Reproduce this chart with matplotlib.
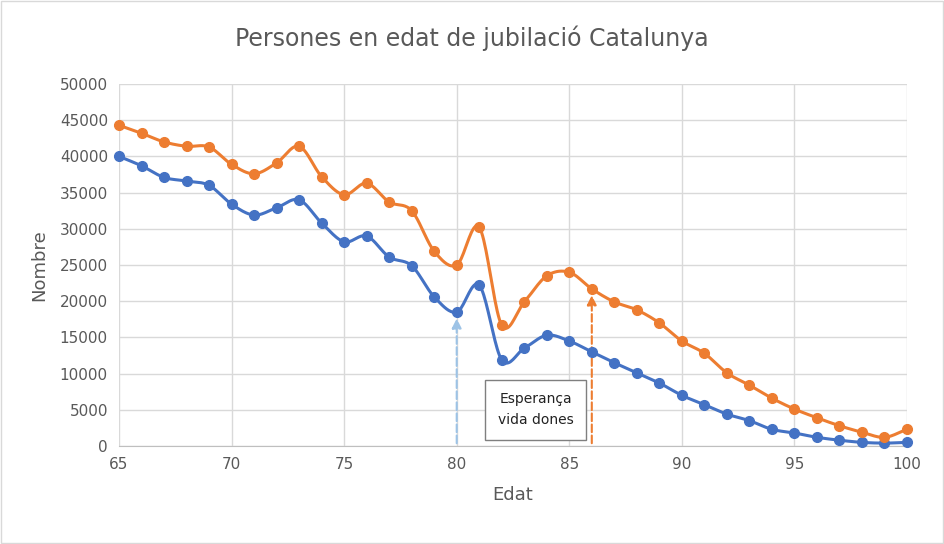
import numpy as np
import matplotlib
matplotlib.use("Agg")
import matplotlib.pyplot as plt
from matplotlib.patches import Rectangle

ages = list(range(65, 101))
homes = [40000,38700,37100,36600,36000,33400,31900,32900,34000,30800,28200,29000,26100,24900,20600,18500,22200,11900,13500,15300,14500,13000,11500,10100,8700,7000,5700,4400,3500,2300,1800,1200,800,500,400,500]
dones = [44300,43200,42000,41400,41300,38900,37600,39100,41400,37200,34700,36300,33700,32500,26900,25000,30200,16700,19900,23500,24000,21700,19900,18800,17000,14500,12800,10100,8400,6600,5100,3900,2800,1900,1200,2300]
esp_homes, esp_dones = 80, 86

def smooth(x, y, n=20):
    x = np.asarray(x, float); y = np.asarray(y, float)
    xp = np.concatenate([[2*x[0]-x[1]], x, [2*x[-1]-x[-2]]])
    yp = np.concatenate([[2*y[0]-y[1]], y, [2*y[-1]-y[-2]]])
    xs, ys = [], []
    for i in range(1, len(xp)-2):
        t = np.linspace(0, 1, n, endpoint=False)
        for arr, out in ((xp, xs), (yp, ys)):
            p0, p1, p2, p3 = arr[i-1], arr[i], arr[i+1], arr[i+2]
            out.extend(0.5*((2*p1) + (-p0+p2)*t + (2*p0-5*p1+4*p2-p3)*t**2 + (-p0+3*p1-3*p2+p3)*t**3))
    xs.append(x[-1]); ys.append(y[-1])
    return np.array(xs), np.array(ys)

blue, orange = "#4472C4", "#ED7D31"
fig = plt.figure(figsize=(9.44, 5.44), dpi=100)
fig.patches.append(Rectangle((0.001, 0.001), 0.998, 0.998, transform=fig.transFigure, fill=False, ec="#D9D9D9", lw=1))
ax = fig.add_axes([119/944, 1-446/544, (907-119)/944, (446-84)/544])
for y, c in ((homes, blue), (dones, orange)):
    sx, sy = smooth(ages, y)
    ax.plot(sx, sy, color=c, lw=2.2, zorder=3, clip_on=False)
    ax.plot(ages, y, "o", color=c, ms=7, zorder=4, clip_on=False)
ax.annotate("", xy=(esp_homes, 18000), xytext=(esp_homes, 0),
            arrowprops=dict(arrowstyle="-|>", color="#9DC3E6", lw=1.5, ls="--", mutation_scale=14), zorder=2)
ax.annotate("", xy=(esp_dones, 21200), xytext=(esp_dones, 0),
            arrowprops=dict(arrowstyle="-|>", color=orange, lw=1.5, ls="--", mutation_scale=14), zorder=2)
ax.text(83.5, 5000, "Esperança\nvida dones", ha="center", va="center", fontsize=10, color="#222222",
        bbox=dict(boxstyle="square,pad=0.9", fc="white", ec="#7F7F7F"), zorder=5, linespacing=1.6)
ax.set_xlim(65, 100); ax.set_ylim(0, 50000)
ax.set_xticks(range(65, 101, 5)); ax.set_yticks(range(0, 50001, 5000))
ax.grid(True, color="#D9D9D9", lw=1); ax.set_axisbelow(True)
for s in ("top", "right", "left"): ax.spines[s].set_visible(False)
ax.spines["bottom"].set_color("#BFBFBF")
ax.tick_params(length=0, labelsize=11, colors="#595959", pad=8)
ax.set_xlabel("Edat", fontsize=13, color="#595959", labelpad=10)
ax.set_ylabel("Nombre", fontsize=13, color="#595959", labelpad=8)
fig.text(0.5, 0.915, "Persones en edat de jubilació Catalunya", ha="center", fontsize=17, color="#595959")
fig.savefig("out.png", dpi=100)
